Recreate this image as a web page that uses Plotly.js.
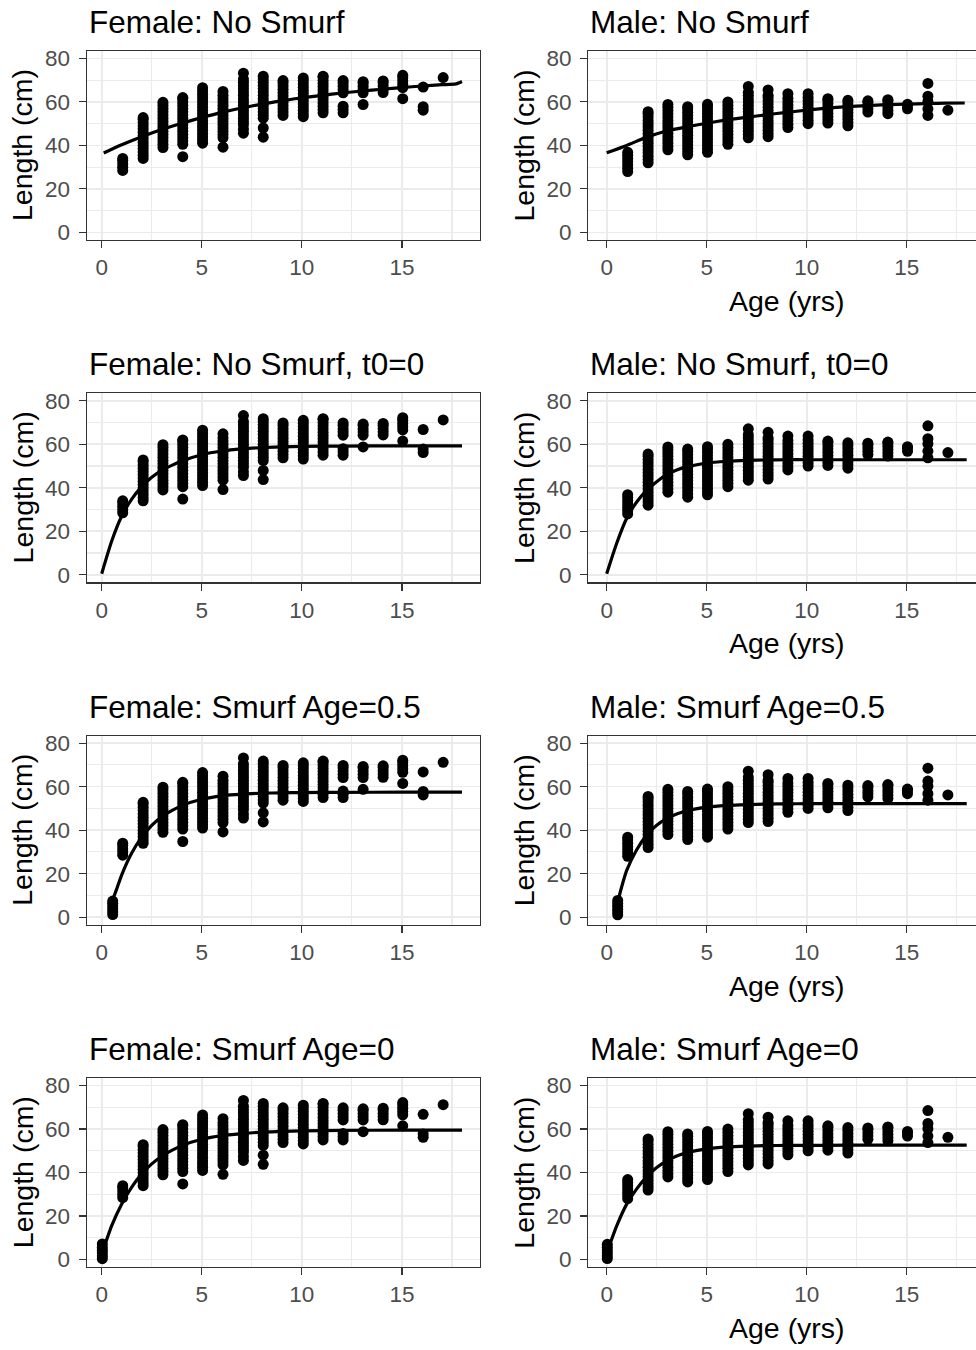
<!DOCTYPE html>
<html>
<head>
<meta charset="utf-8">
<script src="https://cdn.plot.ly/plotly-3.0.1.min.js"></script>
<style>
html, body { margin: 0; padding: 0; background: #fff; overflow: hidden; }
#chart { width: 990px; height: 1350px; }
</style>
</head>
<body>
<div id="chart"></div>
<script>
// ---------------- DATA ----------------
const ageX = [1.05, 2.07, 3.06, 4.05, 5.04, 6.06, 7.08, 8.07, 9.06, 10.07, 11.06, 12.06, 13.06, 14.06, 15.04, 16.06, 17.06];

// Observed lengths (cm) per age — females
const femaleLengths = [
  [28.5, 30, 31.5, 33, 34],
  [34, 35.5, 37, 38.5, 40, 41.5, 43, 44.5, 46, 47.5, 49, 50.5, 52, 52.8],
  [39, 40.5, 42, 43.5, 45, 46.5, 48, 49.5, 51, 52.5, 54, 55.5, 57, 58.5, 59.8],
  [34.8, 40.5, 42, 43.5, 45, 46.5, 48, 49.5, 51, 52.5, 54, 55.5, 57, 58.5, 60, 61.5, 62],
  [41, 42.5, 44, 45.5, 47, 48.5, 50, 51.5, 53, 54.5, 56, 57.5, 59, 60.5, 62, 63.5, 65, 66.5],
  [39.2, 43.5, 45, 46.5, 48, 49.5, 51, 52.5, 54, 55.5, 57, 58.5, 60, 61.5, 63, 64.8],
  [45.6, 47.4, 49.5, 51, 52.5, 54, 55.5, 57, 58.5, 60, 61.5, 63, 64.5, 66, 67.5, 69, 70.5, 73.2],
  [43.8, 48, 52.5, 54, 55.5, 57, 58.5, 60, 61.5, 63, 64.5, 66, 67.5, 69, 70.5, 71.8],
  [53.8, 55.3, 56.8, 58.3, 59.8, 61.3, 62.8, 64.3, 65.8, 67.3, 68.8, 69.8],
  [53.2, 54.7, 56.2, 57.7, 59.2, 60.7, 62.2, 63.7, 65.2, 66.7, 68.2, 69.7, 71],
  [55, 56.5, 58, 59.5, 61, 62.5, 64, 65.5, 67, 68.5, 70, 71.5, 71.8],
  [55, 56.5, 58, 64.2, 65.7, 67.2, 68.7, 69.8],
  [58.8, 64.2, 65.7, 67.2, 68.7, 69.3],
  [64.3, 65.8, 67.3, 68.8, 69.6],
  [61.5, 66.6, 68.1, 69.6, 71.1, 72.2],
  [56.2, 57.8, 66.8],
  [71.2]
];

// Observed lengths (cm) per age — males
const maleLengths = [
  [28, 29.5, 31, 32.5, 34, 35.5, 36.8],
  [32, 33.5, 35, 36.5, 38, 39.5, 41, 42.5, 44, 45.5, 47, 48.5, 50, 51.5, 53, 54.5, 55.5],
  [38, 39.5, 41, 42.5, 44, 45.5, 47, 48.5, 50, 51.5, 53, 54.5, 56, 57.5, 58.8],
  [35.7, 37.2, 38.7, 40.2, 41.7, 43.2, 44.7, 46.2, 47.7, 49.2, 50.7, 52.2, 53.7, 55.2, 56.7, 57.8],
  [36.8, 38.3, 39.8, 41.3, 42.8, 44.3, 45.8, 47.3, 48.8, 50.3, 51.8, 53.3, 54.8, 56.3, 57.8, 58.9],
  [40.5, 42, 43.5, 45, 46.5, 48, 49.5, 51, 52.5, 54, 55.5, 57, 58.5, 60],
  [43.5, 45, 46.5, 48, 49.5, 51, 52.5, 54, 55.5, 57, 58.5, 60, 61.5, 63, 64.4, 67.1],
  [44, 45.5, 47, 48.5, 50, 51.5, 53, 54.5, 56, 57.5, 59, 60.5, 62, 63, 65.5],
  [48.2, 49.7, 51.2, 52.7, 54.2, 55.7, 57.2, 58.7, 60.2, 61.7, 63.8],
  [50, 51.5, 53, 54.5, 56, 57.5, 59, 60.5, 62, 63.8],
  [50.3, 51.8, 53.3, 54.8, 56.3, 57.8, 59.3, 60.8, 61.5],
  [49, 50.5, 52, 53.5, 55, 56.5, 58, 59.5, 60.7],
  [55.3, 56.8, 58.3, 59.8, 60.5],
  [54.6, 56.1, 57.6, 59.1, 60.6, 61],
  [56.8, 58.3, 58.9],
  [53.8, 56.8, 60.2, 62.6, 68.5],
  [56.2]
];

// Smurf (age-0 / age-0.5) lengths (cm)
const smurfAgeHalf = 0.55;
const smurfAgeZero = 0.03;
const femaleSmurfHalf = [1.2, 2.5, 3.8, 5.1, 6.4, 7.4];
const maleSmurfHalf = [1.1, 2.4, 3.7, 5, 6.3, 7.7];
const femaleSmurfZero = [0.4, 1.7, 3, 4.3, 5.6, 7.2];
const maleSmurfZero = [0.5, 1.8, 3.1, 4.4, 5.7, 7];

// Fitted growth curves (age, length)
const curveAgeFNo = [0.1, 1, 2, 3, 4, 5, 6, 7, 8, 9, 10, 11, 12, 13, 14, 15, 16, 17, 17.7, 18];
const curveLenFNo = [36.5, 40.3, 44, 47.3, 50.2, 52.8, 55.2, 57.2, 59, 60.5, 61.9, 63, 64.1, 65, 65.8, 66.6, 67.3, 67.9, 68.3, 69.4];
const curveAgeMNo = [0, 1, 2, 3, 4, 5, 6, 7, 8, 9, 10, 11, 12, 13, 14, 15, 16, 17, 17.9];
const curveLenMNo = [36.6, 40, 43.8, 46.6, 48.5, 50.2, 51.7, 52.9, 54.1, 55.2, 56.2, 57.1, 57.8, 58.3, 58.7, 59, 59.2, 59.4, 59.5];

const curveAgeT0 = [0, 0.5, 1, 1.5, 2, 2.5, 3, 3.5, 4, 5, 6, 7, 8, 9, 10, 12, 15, 18];
const curveLenFT0 = [0.5, 15.5, 27, 34.8, 40.5, 44.8, 48, 50.3, 52.3, 55.2, 56.9, 57.9, 58.5, 58.8, 59, 59.2, 59.3, 59.3];
const curveLenMT0 = [0.5, 14.5, 26, 33.5, 38.8, 42.8, 46, 48.2, 49.6, 51.4, 52.2, 52.6, 52.8, 52.9, 52.9, 52.9, 52.9, 52.9];

const curveAgeHalf = [0.55, 0.75, 1, 1.5, 2, 2.5, 3, 3.5, 4, 5, 6, 7, 8, 9, 10, 12, 15, 18];
const curveLenFHalf = [8, 13, 19.5, 29.5, 36.8, 42.2, 46.2, 49, 51.3, 54.2, 55.8, 56.6, 57, 57.2, 57.3, 57.4, 57.5, 57.5];
const curveLenMHalf = [7, 14, 21.5, 31, 37.8, 42.3, 45.3, 47.4, 48.9, 50.6, 51.4, 51.8, 52, 52.1, 52.2, 52.2, 52.2, 52.2];

const curveAgeZero = [0, 0.5, 1, 1.5, 2, 2.5, 3, 3.5, 4, 5, 6, 7, 8, 9, 10, 12, 15, 18];
const curveLenFZero = [2.5, 15.6, 25.6, 33.3, 39.4, 44, 47.5, 50.2, 52.4, 55.3, 57, 57.9, 58.6, 58.9, 59.2, 59.4, 59.5, 59.5];
const curveLenMZero = [3, 15.5, 25.5, 32.5, 38, 42.3, 45.4, 47.6, 49.1, 50.9, 51.8, 52.2, 52.4, 52.5, 52.5, 52.6, 52.6, 52.6];

const panelTitles = [
  'Female: No Smurf', 'Male: No Smurf',
  'Female: No Smurf, t0=0', 'Male: No Smurf, t0=0',
  'Female: Smurf Age=0.5', 'Male: Smurf Age=0.5',
  'Female: Smurf Age=0', 'Male: Smurf Age=0'
];
const xTickVals = [0, 5, 10, 15];
const yTickVals = [0, 20, 40, 60, 80];
const xLabel = 'Age (yrs)';
const yLabel = 'Length (cm)';

// ---------------- BUILD ----------------
const W = 990, H = 1350;
const FONT = '"Liberation Sans", Arial, "DejaVu Sans", sans-serif';

function flatten(lengths, smurfX, smurfLens) {
  const xs = [], ys = [];
  if (smurfLens) smurfLens.forEach(v => { xs.push(smurfX); ys.push(v); });
  lengths.forEach((arr, i) => arr.forEach(v => { xs.push(ageX[i]); ys.push(v); }));
  return {xs, ys};
}

const panels = [
  {pts: flatten(femaleLengths), cx: curveAgeFNo, cy: curveLenFNo},
  {pts: flatten(maleLengths), cx: curveAgeMNo, cy: curveLenMNo},
  {pts: flatten(femaleLengths), cx: curveAgeT0, cy: curveLenFT0},
  {pts: flatten(maleLengths), cx: curveAgeT0, cy: curveLenMT0},
  {pts: flatten(femaleLengths, smurfAgeHalf, femaleSmurfHalf), cx: curveAgeHalf, cy: curveLenFHalf},
  {pts: flatten(maleLengths, smurfAgeHalf, maleSmurfHalf), cx: curveAgeHalf, cy: curveLenMHalf},
  {pts: flatten(femaleLengths, smurfAgeZero, femaleSmurfZero), cx: curveAgeZero, cy: curveLenFZero},
  {pts: flatten(maleLengths, smurfAgeZero, maleSmurfZero), cx: curveAgeZero, cy: curveLenMZero}
];

const colLeft = [[86.7, 480], [588.3, 984.7]];
const xRanges = [[-0.75, 18.9], [-0.92, 18.9]];
const rowTop0 = 51, rowH = 189, rowStep = 342.4;

const traces = [];
const layout = {
  width: W, height: H,
  margin: {l: 0, r: 0, t: 0, b: 0, pad: 0},
  paper_bgcolor: '#ffffff', plot_bgcolor: '#ffffff',
  showlegend: false,
  font: {family: FONT, color: '#000'},
  annotations: []
};

panels.forEach((p, i) => {
  const row = Math.floor(i / 2), col = i % 2;
  const n = i + 1;
  const xa = 'x' + (n === 1 ? '' : n), ya = 'y' + (n === 1 ? '' : n);
  const top = rowTop0 + rowStep * row, bot = top + rowH;
  const common = {
    showgrid: true, gridcolor: '#ebebeb', gridwidth: 1.6,
    zeroline: false, showline: true, linecolor: '#333333', linewidth: 1.2, mirror: true,
    ticks: 'outside', ticklen: 7, tickwidth: 1.2, tickcolor: '#333333',
    tickfont: {family: FONT, size: 22.5, color: '#4d4d4d'},
    tickmode: 'array', fixedrange: true
  };
  layout['xaxis' + (n === 1 ? '' : n)] = Object.assign({}, common, {
    domain: [colLeft[col][0] / W, colLeft[col][1] / W],
    range: xRanges[col], anchor: ya, tickvals: xTickVals,
    ticktext: xTickVals.map(String), ticklabelstandoff: 0,
    minor: {tickmode: 'linear', tick0: 0, dtick: 2.5, showgrid: true, gridcolor: '#ebebeb', gridwidth: 1.1}
  });
  layout['yaxis' + (n === 1 ? '' : n)] = Object.assign({}, common, {
    domain: [1 - bot / H, 1 - top / H],
    range: [-3.5, 83.4], anchor: xa, tickvals: yTickVals,
    ticktext: yTickVals.map(String), ticklabelstandoff: 4,
    minor: {tickmode: 'linear', tick0: 0, dtick: 10, showgrid: true, gridcolor: '#ebebeb', gridwidth: 1.1}
  });
  traces.push({
    type: 'scatter', mode: 'markers', x: p.pts.xs, y: p.pts.ys, xaxis: xa, yaxis: ya,
    marker: {color: '#000000', size: 11, line: {width: 0}}, hoverinfo: 'skip', cliponaxis: false
  });
  traces.push({
    type: 'scatter', mode: 'lines', x: p.cx, y: p.cy, xaxis: xa, yaxis: ya,
    line: {color: '#000000', width: 3.2, shape: 'spline', smoothing: 0.6}, hoverinfo: 'skip'
  });
  // panel title
  layout.annotations.push({
    text: panelTitles[i], xref: 'paper', yref: 'paper',
    x: (colLeft[col][0] + 0) / W, y: 1 - (top - 29) / H,
    xanchor: 'left', yanchor: 'middle', showarrow: false,
    font: {family: FONT, size: 31.5, color: '#000'}
  });
  // y axis title
  layout.annotations.push({
    text: yLabel, xref: 'paper', yref: 'paper',
    x: (col === 0 ? 22.5 : 524) / W, y: 1 - (top + rowH / 2) / H,
    xanchor: 'center', yanchor: 'middle', textangle: -90, showarrow: false,
    font: {family: FONT, size: 28.5, color: '#000'}
  });
  // x axis title (right column only)
  if (col === 1) {
    layout.annotations.push({
      text: xLabel, xref: 'paper', yref: 'paper',
      x: ((colLeft[1][0] + colLeft[1][1]) / 2) / W, y: 1 - (bot + 61) / H,
      xanchor: 'center', yanchor: 'middle', showarrow: false,
      font: {family: FONT, size: 28.5, color: '#000'}
    });
  }
});

Plotly.newPlot('chart', traces, layout, {staticPlot: true, displayModeBar: false});
</script>
</body>
</html>
